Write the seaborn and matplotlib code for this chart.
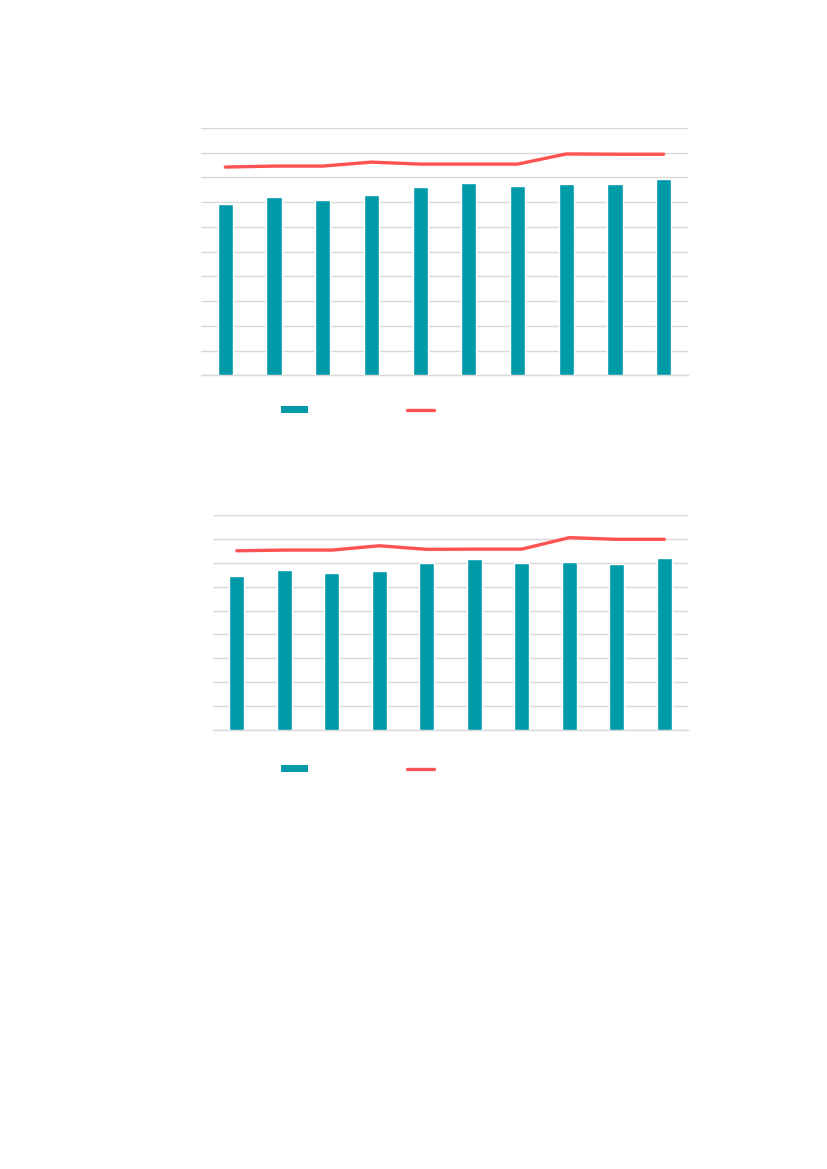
"""
Two stacked bar + line charts (text-free reference).
"""

import matplotlib
matplotlib.use("Agg")
import matplotlib.pyplot as plt
import seaborn as sns
import pandas as pd
from matplotlib.patches import Patch
from matplotlib.lines import Line2D

# Data
categories = ["1", "2", "3", "4", "5", "6", "7", "8", "9", "10"]
top_bars = [6.92, 7.20, 7.08, 7.28, 7.60, 7.76, 7.64, 7.72, 7.72, 7.92]
top_line = [8.42, 8.46, 8.46, 8.62, 8.54, 8.54, 8.54, 8.95, 8.94, 8.94]
bottom_bars = [6.46, 6.70, 6.56, 6.67, 7.01, 7.17, 6.97, 7.04, 6.94, 7.19]
bottom_line = [7.50, 7.53, 7.53, 7.71, 7.56, 7.57, 7.57, 8.05, 7.98, 7.98]

TEAL = "#009AA8"
RED = "#FF5252"
GRID = "#D9D9D9"

sns.set_theme(style="white")
plt.rcParams['font.family'] = ['DejaVu Sans']

fig = plt.figure(figsize=(8.27, 11.69), dpi=100)


def draw_panel(rect, bars, line, ymax, legend_y):
    ax = fig.add_axes(rect)
    df = pd.DataFrame({"cat": categories, "bar": bars, "line": line,
                       "pos": range(len(categories))})
    sns.barplot(data=df, x="cat", y="bar", color=TEAL, width=0.31,
                saturation=1, ax=ax, zorder=3)
    sns.lineplot(data=df, x="pos", y="line", color=RED, linewidth=2.4,
                 ax=ax, zorder=4)
    ax.set_xlim(-0.5, len(categories) - 0.5)
    ax.set_ylim(0, ymax)
    ax.set_yticks(range(0, ymax + 1))
    ax.yaxis.grid(True, color=GRID, linewidth=1)
    ax.set_axisbelow(True)
    for side in ["top", "left", "right"]:
        ax.spines[side].set_visible(False)
    ax.spines["bottom"].set_color(GRID)
    ax.spines["bottom"].set_linewidth(1)
    ax.set_xlabel("")
    ax.set_ylabel("")
    ax.set_xticklabels([])
    ax.set_yticklabels([])
    ax.tick_params(length=0)

    handles = [Patch(facecolor=TEAL, edgecolor="none"),
               Line2D([0], [0], color=RED, linewidth=2.4)]
    fig.legend(handles, ["", ""], loc="center", bbox_to_anchor=(0.439, legend_y),
               ncol=2, frameon=False, fontsize=10, handlelength=1.95,
               handleheight=0.45, handletextpad=0.8, columnspacing=6.3,
               borderpad=0)
    return ax


draw_panel([0.243, 0.679, 0.589, 0.2115], top_bars, top_line, 10, 0.649)
draw_panel([0.2576, 0.3755, 0.5744, 0.184], bottom_bars, bottom_line, 9, 0.342)

plt.savefig("out.png", dpi=100)
plt.close()
